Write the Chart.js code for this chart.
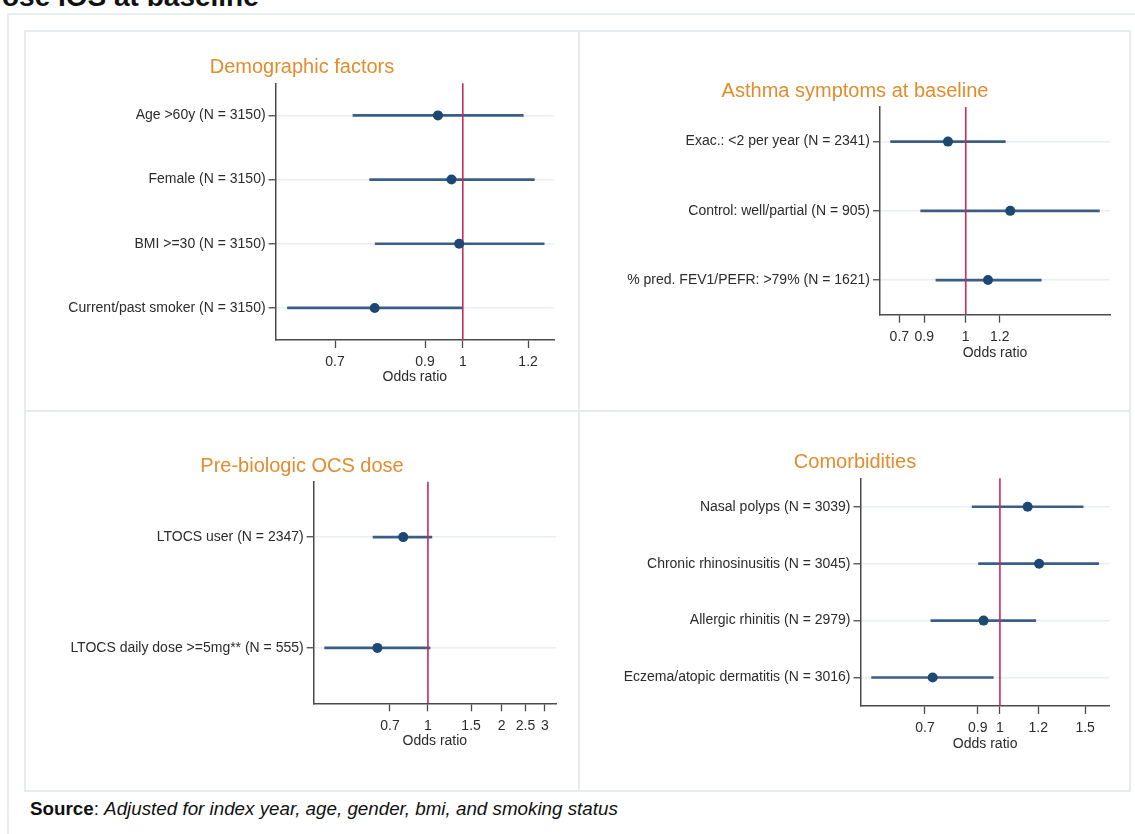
<!DOCTYPE html>
<html>
<head>
<meta charset="utf-8">
<script src="https://cdn.jsdelivr.net/npm/chart.js@4.4.0/dist/chart.umd.min.js"></script>
<style>
  body { margin: 0; background: #fff; }
  #page { position: relative; width: 1135px; height: 834px; overflow: hidden; background: #fff;
          font-family: "Liberation Sans", Arial, sans-serif; }
  #head { position: absolute; left: 2px; top: -17px; font-size: 28px; line-height: 28px; font-weight: bold; color: #111; white-space: nowrap; }
  #outer { position: absolute; left: 7px; top: 13px; width: 1140px; height: 840px; border-top: 2px solid #e8eded; border-left: 2px solid #e8eded; }
  #frame { position: absolute; left: 24px; top: 30px; width: 1107px; height: 762px; border: 2px solid #e6ecee; box-sizing: border-box; }
  #vdiv { position: absolute; left: 578px; top: 30px; width: 2px; height: 762px; background: #e6ecee; }
  #hdiv { position: absolute; left: 24px; top: 410px; width: 1107px; height: 2px; background: #e6ecee; }
  .panel { position: absolute; }
  #source { position: absolute; left: 30px; top: 798px; font-size: 18.8px; line-height: 22px; color: #111; white-space: nowrap; }
</style>
</head>
<body>
<div id="page">
  <div id="head">ose IOS at baseline</div>
  <div id="outer"></div>
  <div id="frame"></div>
  <div id="vdiv"></div>
  <div id="hdiv"></div>
  <div class="panel" style="left:25px;top:31px"><canvas id="c1" width="554" height="380"></canvas></div>
  <div class="panel" style="left:579px;top:31px"><canvas id="c2" width="552" height="380"></canvas></div>
  <div class="panel" style="left:25px;top:411px"><canvas id="c3" width="554" height="381"></canvas></div>
  <div class="panel" style="left:579px;top:411px"><canvas id="c4" width="552" height="381"></canvas></div>
  <div id="source"><b>Source</b>: <i>Adjusted for index year, age, gender, bmi, and smoking status</i></div>
</div>
<script>
// Demographic factors
var demoLabels = ['Age >60y (N = 3150)', 'Female (N = 3150)', 'BMI >=30 (N = 3150)', 'Current/past smoker (N = 3150)'];
var demoOR = [0.933, 0.969, 0.990, 0.782];
var demoLo = [0.736, 0.771, 0.783, 0.613];
var demoHi = [1.184, 1.221, 1.255, 0.998];
var demoTicks = [0.7, 0.9, 1, 1.2];
var demoTickLabels = ['0.7', '0.9', '1', '1.2'];

// Asthma symptoms at baseline
var asthmaLabels = ['Exac.: <2 per year (N = 2341)', 'Control: well/partial (N = 905)', '% pred. FEV1/PEFR: >79% (N = 1621)'];
var asthmaOR = [0.909, 1.27, 1.127];
var asthmaLo = [0.668, 0.785, 0.852];
var asthmaHi = [1.237, 2.05, 1.50];
var asthmaTicks = [0.7, 0.8, 1, 1.2];
var asthmaTickLabels = ['0.7', '0.9', '1', '1.2'];

// Pre-biologic OCS dose
var ocsLabels = ['LTOCS user (N = 2347)', 'LTOCS daily dose >=5mg** (N = 555)'];
var ocsOR = [0.793, 0.622];
var ocsLo = [0.597, 0.379];
var ocsHi = [1.038, 1.02];
var ocsTicks = [0.7, 1, 1.5, 2, 2.5, 3];
var ocsTickLabels = ['0.7', '1', '1.5', '2', '2.5', '3'];

// Comorbidities
var comLabels = ['Nasal polyps (N = 3039)', 'Chronic rhinosinusitis (N = 3045)', 'Allergic rhinitis (N = 2979)', 'Eczema/atopic dermatitis (N = 3016)'];
var comOR = [1.141, 1.205, 0.925, 0.726];
var comLo = [0.876, 0.903, 0.720, 0.543];
var comHi = [1.486, 1.60, 1.186, 0.969];
var comTicks = [0.7, 0.9, 1, 1.2, 1.5];
var comTickLabels = ['0.7', '0.9', '1', '1.2', '1.5'];

var FONT = '"Liberation Sans", Arial, sans-serif';
var orange = '#e38c2d';
var dotColor = '#1b4874';
var ciColor = '#3b5e84';
var axisColor = '#4a4a4a';
var textColor = '#2b2b2b';
var gridColor = '#e9eef3';
var refColor = '#c92a5d';

// vertical line at OR = 1, drawn under the points
var refLine = {
  id: 'refLine',
  beforeDatasetDraw: function (chart, args) {
    if (args.meta.type !== 'line') return;
    var x = chart.scales.x.getPixelForValue(1);
    var ctx = chart.ctx, a = chart.chartArea;
    ctx.save();
    ctx.strokeStyle = refColor;
    ctx.lineWidth = 1.6;
    ctx.beginPath();
    ctx.moveTo(x, a.top);
    ctx.lineTo(x, a.bottom);
    ctx.stroke();
    ctx.restore();
  }
};

function forest(id, c) {
  new Chart(document.getElementById(id), {
    type: 'bar',
    data: {
      labels: c.labels,
      datasets: [{
        type: 'bar',
        indexAxis: 'y',
        data: c.lo.map(function (v, i) { return [v, c.hi[i]]; }),
        backgroundColor: ciColor,
        barThickness: 2,
        borderWidth: 0,
        order: 1
      }, {
        type: 'line',
        indexAxis: 'y',
        data: c.or,
        showLine: false,
        pointRadius: 5,
        pointBackgroundColor: dotColor,
        pointBorderWidth: 0,
        order: 0
      }]
    },
    options: {
      responsive: false,
      animation: false,
      indexAxis: 'y',
      layout: { padding: { left: c.pad, right: c.pad, top: 0, bottom: 0 } },
      plugins: {
        legend: { display: false },
        tooltip: { enabled: false },
        title: {
          display: true, text: c.title, color: orange,
          font: { family: FONT, size: 20, weight: 'normal' },
          padding: { top: c.tTop, bottom: c.tBot }
        }
      },
      scales: {
        x: {
          type: 'logarithmic',
          min: c.min, max: c.max,
          bounds: 'data',
          beginAtZero: false,
          afterFit: function (s) { s.height = c.xH; },
          afterBuildTicks: function (s) { s.ticks = c.ticks.map(function (v) { return { value: v }; }); },
          ticks: {
            callback: function (v, i) { return c.tickLabels[i]; },
            color: textColor, font: { family: FONT, size: 14 }, padding: 6,
            autoSkip: false, maxRotation: 0
          },
          grid: { drawOnChartArea: false, drawTicks: true, tickLength: 8, tickColor: axisColor, tickWidth: 1.3 },
          border: { color: axisColor, width: 1.5 },
          title: {
            display: true, text: 'Odds ratio', color: textColor,
            font: { family: FONT, size: 14 }, padding: { top: 0, bottom: c.xtPad }
          }
        },
        y: {
          type: 'category',
          offset: true,
          afterFit: function (s) { s.width = c.yW - c.pad; },
          ticks: { color: textColor, font: { family: FONT, size: 14 }, padding: 3, autoSkip: false },
          grid: { offset: false, color: gridColor, lineWidth: 1.5, tickLength: 7, tickColor: axisColor, tickWidth: 1.3 },
          border: { color: axisColor, width: 1.5 }
        }
      }
    },
    plugins: [refLine]
  });
}

forest('c1', {
  title: 'Demographic factors', labels: demoLabels, or: demoOR, lo: demoLo, hi: demoHi,
  ticks: demoTicks, tickLabels: demoTickLabels, min: 0.593, max: 1.29,
  pad: 25, yW: 250.6, xH: 71, tTop: 24.5, tBot: 3.8, xtPad: 25.9
});
forest('c2', {
  title: 'Asthma symptoms at baseline', labels: asthmaLabels, or: asthmaOR, lo: asthmaLo, hi: asthmaHi,
  ticks: asthmaTicks, tickLabels: asthmaTickLabels, min: 0.631, max: 2.17,
  pad: 21, yW: 301, xH: 96.3, tTop: 48.7, tBot: 3.3, xtPad: 49.9
});
forest('c3', {
  title: 'Pre-biologic OCS dose', labels: ocsLabels, or: ocsOR, lo: ocsLo, hi: ocsHi,
  ticks: ocsTicks, tickLabels: ocsTickLabels, min: 0.342, max: 3.33,
  pad: 23, yW: 288.7, xH: 88.7, tTop: 43.7, tBot: 3, xtPad: 42.9
});
forest('c4', {
  title: 'Comorbidities', labels: comLabels, or: comOR, lo: comLo, hi: comHi,
  ticks: comTicks, tickLabels: comTickLabels, min: 0.515, max: 1.687,
  pad: 21.2, yW: 281.5, xH: 86, tTop: 39.7, tBot: 3.6, xtPad: 39.3
});
</script>
</body>
</html>
